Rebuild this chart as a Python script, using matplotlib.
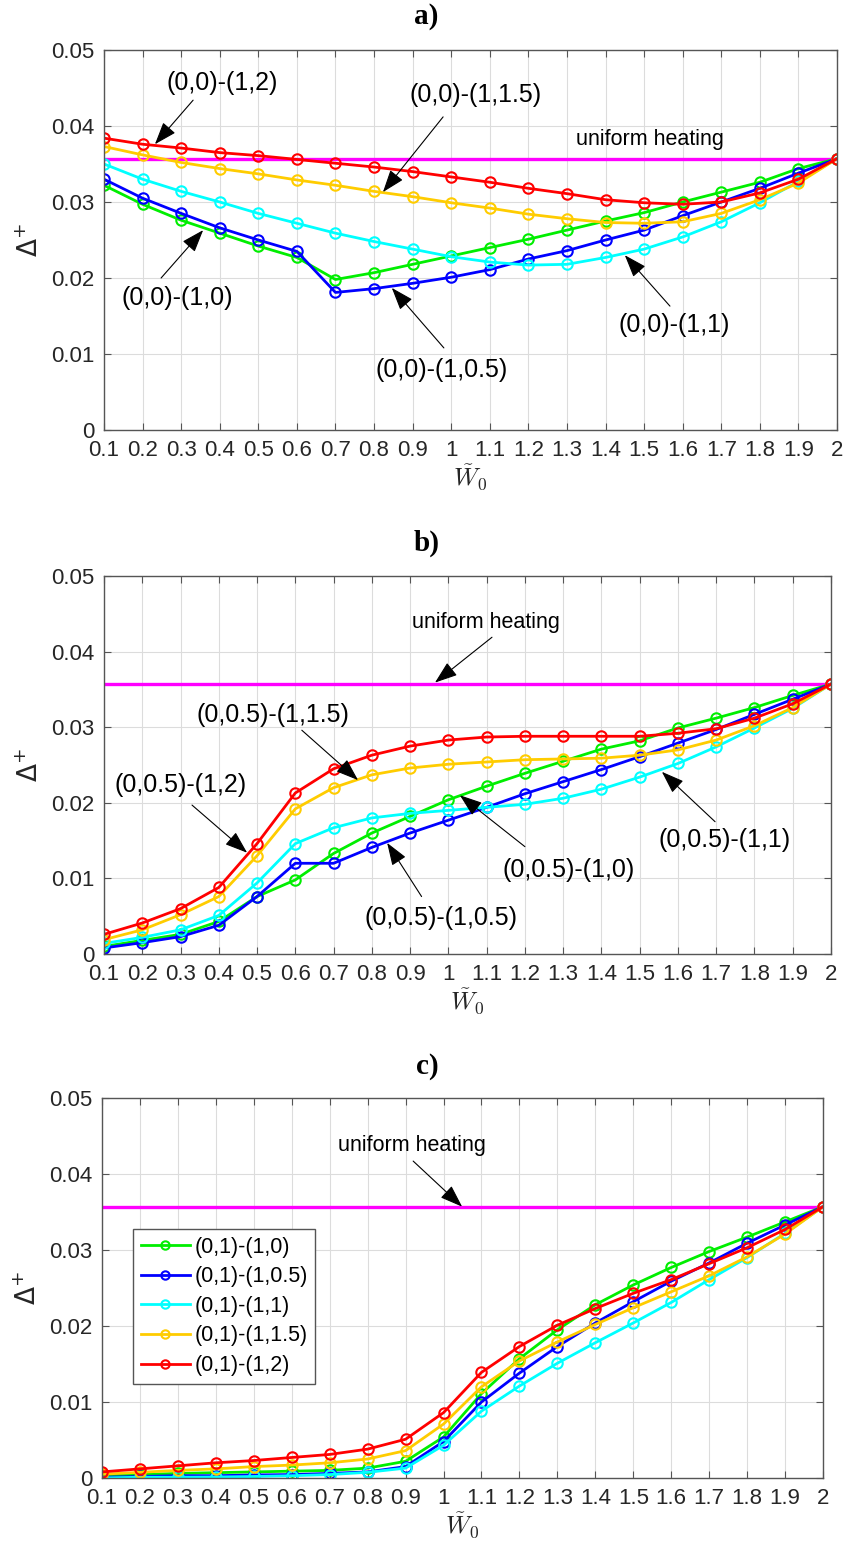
import matplotlib
matplotlib.use("Agg")
import matplotlib.pyplot as plt
import numpy as np

# x axis: dimensionless heater width
w0 = [0.1, 0.2, 0.3, 0.4, 0.5, 0.6, 0.7, 0.8, 0.9, 1.0,
      1.1, 1.2, 1.3, 1.4, 1.5, 1.6, 1.7, 1.8, 1.9, 2.0]
x_ticklabels = ["0.1", "0.2", "0.3", "0.4", "0.5", "0.6", "0.7", "0.8", "0.9", "1",
                "1.1", "1.2", "1.3", "1.4", "1.5", "1.6", "1.7", "1.8", "1.9", "2"]
y_ticks = [0, 0.01, 0.02, 0.03, 0.04, 0.05]
y_ticklabels = ["0", "0.01", "0.02", "0.03", "0.04", "0.05"]
uniform_heating = 0.0357

# panel a) heater (0,0)-(1,h)
a_10 = [0.0322, 0.0297, 0.0276, 0.0259, 0.0242, 0.0227, 0.0198, 0.0207, 0.0218, 0.0229,
        0.0240, 0.0251, 0.0263, 0.0275, 0.0286, 0.0300, 0.0313, 0.0326, 0.0344, 0.0357]
a_105 = [0.0330, 0.0305, 0.0285, 0.0266, 0.0250, 0.0235, 0.0181, 0.0186, 0.0193, 0.0201,
         0.0211, 0.0225, 0.0236, 0.0250, 0.0263, 0.0282, 0.0300, 0.0318, 0.0338, 0.0357]
a_11 = [0.0350, 0.0330, 0.0314, 0.0300, 0.0285, 0.0272, 0.0259, 0.0248, 0.0238, 0.0228,
        0.0221, 0.0217, 0.0218, 0.0227, 0.0238, 0.0254, 0.0274, 0.0299, 0.0327, 0.0357]
a_115 = [0.0373, 0.0362, 0.0352, 0.0344, 0.0337, 0.0329, 0.0322, 0.0314, 0.0307, 0.0299,
         0.0292, 0.0284, 0.0278, 0.0273, 0.0272, 0.0274, 0.0285, 0.0303, 0.0325, 0.0357]
a_12 = [0.0384, 0.0376, 0.0371, 0.0365, 0.0361, 0.0356, 0.0351, 0.0346, 0.0340, 0.0333,
        0.0326, 0.0318, 0.0311, 0.0303, 0.0299, 0.0297, 0.0300, 0.0312, 0.0330, 0.0357]

# panel b) heater (0,0.5)-(1,h)
b_10 = [0.0010, 0.0018, 0.0026, 0.0043, 0.0076, 0.0098, 0.0133, 0.0160, 0.0182, 0.0204,
        0.0222, 0.0239, 0.0255, 0.0271, 0.0282, 0.0299, 0.0312, 0.0326, 0.0342, 0.0357]
b_105 = [0.0008, 0.0015, 0.0023, 0.0038, 0.0076, 0.0120, 0.0120, 0.0141, 0.0160, 0.0177,
         0.0194, 0.0212, 0.0228, 0.0244, 0.0261, 0.0279, 0.0297, 0.0317, 0.0337, 0.0357]
b_11 = [0.0014, 0.0022, 0.0032, 0.0051, 0.0094, 0.0146, 0.0167, 0.0180, 0.0186, 0.0190,
        0.0194, 0.0198, 0.0206, 0.0218, 0.0234, 0.0252, 0.0274, 0.0299, 0.0325, 0.0357]
b_115 = [0.0019, 0.0032, 0.0052, 0.0076, 0.0130, 0.0192, 0.0220, 0.0237, 0.0246, 0.0251,
         0.0254, 0.0257, 0.0258, 0.0259, 0.0263, 0.0270, 0.0283, 0.0302, 0.0326, 0.0357]
b_12 = [0.0026, 0.0041, 0.0060, 0.0088, 0.0146, 0.0213, 0.0245, 0.0263, 0.0275, 0.0283,
        0.0287, 0.0288, 0.0288, 0.0288, 0.0288, 0.0292, 0.0298, 0.0312, 0.0331, 0.0357]

# panel c) heater (0,1)-(1,h)
c_10 = [0.0003, 0.00045, 0.0006, 0.0007, 0.0008, 0.0009, 0.0010, 0.0013, 0.0022, 0.0054,
        0.0111, 0.0157, 0.0195, 0.0228, 0.0254, 0.0277, 0.0298, 0.0317, 0.0337, 0.0357]
c_105 = [0.0001, 0.0002, 0.0003, 0.0003, 0.0004, 0.00045, 0.0006, 0.0008, 0.0015, 0.0048,
         0.0100, 0.0138, 0.0173, 0.0204, 0.0232, 0.0259, 0.0283, 0.0309, 0.0333, 0.0357]
c_11 = [0.0000, 0.0001, 0.0001, 0.00013, 0.0002, 0.0003, 0.00045, 0.00075, 0.0013, 0.0043,
        0.0088, 0.0121, 0.0151, 0.0178, 0.0204, 0.0231, 0.0261, 0.0290, 0.0322, 0.0357]
c_115 = [0.0005, 0.00075, 0.0010, 0.0012, 0.0015, 0.0017, 0.0020, 0.0025, 0.0036, 0.0071,
         0.0120, 0.0154, 0.0179, 0.0202, 0.0224, 0.0245, 0.0266, 0.0291, 0.0321, 0.0357]
c_12 = [0.0008, 0.0012, 0.0016, 0.0020, 0.0023, 0.0027, 0.0031, 0.0038, 0.0051, 0.0086,
        0.0139, 0.0173, 0.0201, 0.0223, 0.0243, 0.0261, 0.0282, 0.0303, 0.0327, 0.0357]

colors = ["#00ee00", "#0000ff", "#00ffff", "#ffcc00", "#ff0000"]
magenta = "#ff00ff"

plt.rcParams["font.family"] = ["Liberation Sans", "DejaVu Sans"]

fig = plt.figure(figsize=(8.47, 15.49), dpi=100)
W, H = 847.0, 1549.0


def make_axes(left, right, top, bottom):
    return fig.add_axes([left / W, 1 - bottom / H, (right - left) / W, (bottom - top) / H])


def style_axes(ax):
    ax.set_xlim(0.1, 2.0)
    ax.set_ylim(0, 0.05)
    ax.set_xticks(w0)
    ax.set_xticklabels(x_ticklabels)
    ax.set_yticks(y_ticks)
    ax.set_yticklabels(y_ticklabels)
    ax.tick_params(direction="in", length=5, width=0.8, top=True, right=True,
                   labelsize=16, colors="#555555", labelcolor="#262626", pad=7)
    ax.grid(True, color="#dcdcdc", lw=0.8)
    for s in ax.spines.values():
        s.set_color("#555555")
        s.set_linewidth(1.0)
    ax.set_ylabel(r"$\Delta^{+}$", fontsize=19, color="#262626", labelpad=6)
    ax.set_xlabel(r"$\tilde{W}_0$", fontsize=18, color="#262626",
                  math_fontfamily="cm", labelpad=1)


def draw_series(ax, series, labels=None):
    ax.plot([w0[0], w0[-1]], [uniform_heating, uniform_heating], color=magenta, lw=2.4)
    for i, (ys, col) in enumerate(zip(series, colors)):
        ax.plot(w0, ys, color=col, lw=2.0, marker="o", ms=7.5, mfc="none", mew=1.5,
                label=None if labels is None else labels[i])


def arrow(ax, tail, head):
    ax.annotate("", xy=head, xytext=tail,
                arrowprops=dict(arrowstyle="-|>,head_length=0.7,head_width=0.25",
                                color="k", lw=0.8, shrinkA=0, shrinkB=0,
                                mutation_scale=20))


def label(ax, xy, s, size=18):
    ax.text(xy[0], xy[1], s, fontsize=size, ha="center", va="center", color="k")


# ---- panel a
ax = make_axes(104, 837, 50, 430)
draw_series(ax, [a_10, a_105, a_11, a_115, a_12])
style_axes(ax)
label(ax, (1.515, 0.0382), "uniform heating", 15.5)
label(ax, (0.406, 0.0457), "(0,0)-(1,2)")
arrow(ax, (0.331, 0.0434), (0.232, 0.0376))
label(ax, (1.064, 0.0441), "(0,0)-(1,1.5)")
arrow(ax, (0.979, 0.0412), (0.823, 0.0313))
label(ax, (0.289, 0.0174), "(0,0)-(1,0)")
arrow(ax, (0.248, 0.0200), (0.357, 0.0263))
label(ax, (0.974, 0.0079), "(0,0)-(1,0.5)")
arrow(ax, (0.981, 0.0108), (0.846, 0.0187))
label(ax, (1.577, 0.0138), "(0,0)-(1,1)")
arrow(ax, (1.567, 0.0163), (1.450, 0.0230))
fig.text(426 / W, 1 - 16 / H, "a)", fontsize=21, fontweight="bold",
         family="Liberation Serif", ha="center", va="center")

# ---- panel b
ax = make_axes(104, 831, 576, 954)
draw_series(ax, [b_10, b_105, b_11, b_115, b_12])
style_axes(ax)
label(ax, (1.098, 0.0439), "uniform heating", 15.5)
arrow(ax, (1.114, 0.0419), (0.965, 0.0359))
label(ax, (0.542, 0.0316), "(0,0.5)-(1,1.5)")
arrow(ax, (0.617, 0.0296), (0.764, 0.0230))
label(ax, (0.299, 0.0224), "(0,0.5)-(1,2)")
arrow(ax, (0.330, 0.0197), (0.474, 0.0134))
label(ax, (1.313, 0.0111), "(0,0.5)-(1,0)")
arrow(ax, (1.200, 0.0142), (1.030, 0.0210))
label(ax, (1.723, 0.0151), "(0,0.5)-(1,1)")
arrow(ax, (1.697, 0.0175), (1.558, 0.0241))
label(ax, (0.98, 0.0047), "(0,0.5)-(1,0.5)")
arrow(ax, (0.93, 0.0076), (0.84, 0.0147))
fig.text(427 / W, 1 - 543 / H, "b)", fontsize=21, fontweight="bold",
         family="Liberation Serif", ha="center", va="center")

# ---- panel c
ax = make_axes(102, 823, 1098, 1478)
legend_labels = ["(0,1)-(1,0)", "(0,1)-(1,0.5)", "(0,1)-(1,1)", "(0,1)-(1,1.5)", "(0,1)-(1,2)"]
draw_series(ax, [c_10, c_105, c_11, c_115, c_12], legend_labels)
style_axes(ax)
label(ax, (0.917, 0.0437), "uniform heating", 15.5)
arrow(ax, (0.920, 0.0417), (1.049, 0.0357))
leg = ax.legend(loc="upper left", bbox_to_anchor=(0.043, 0.655), borderaxespad=0,
                fontsize=15.5, fancybox=False, framealpha=1, edgecolor="#555555",
                handlelength=2.3, handletextpad=0.2, labelspacing=0.4,
                borderpad=0.35, markerscale=0.8)
leg.get_frame().set_linewidth(1.0)
fig.text(427 / W, 1 - 1067 / H, "c)", fontsize=21, fontweight="bold",
         family="Liberation Serif", ha="center", va="center")

fig.savefig("out.png", dpi=100)
